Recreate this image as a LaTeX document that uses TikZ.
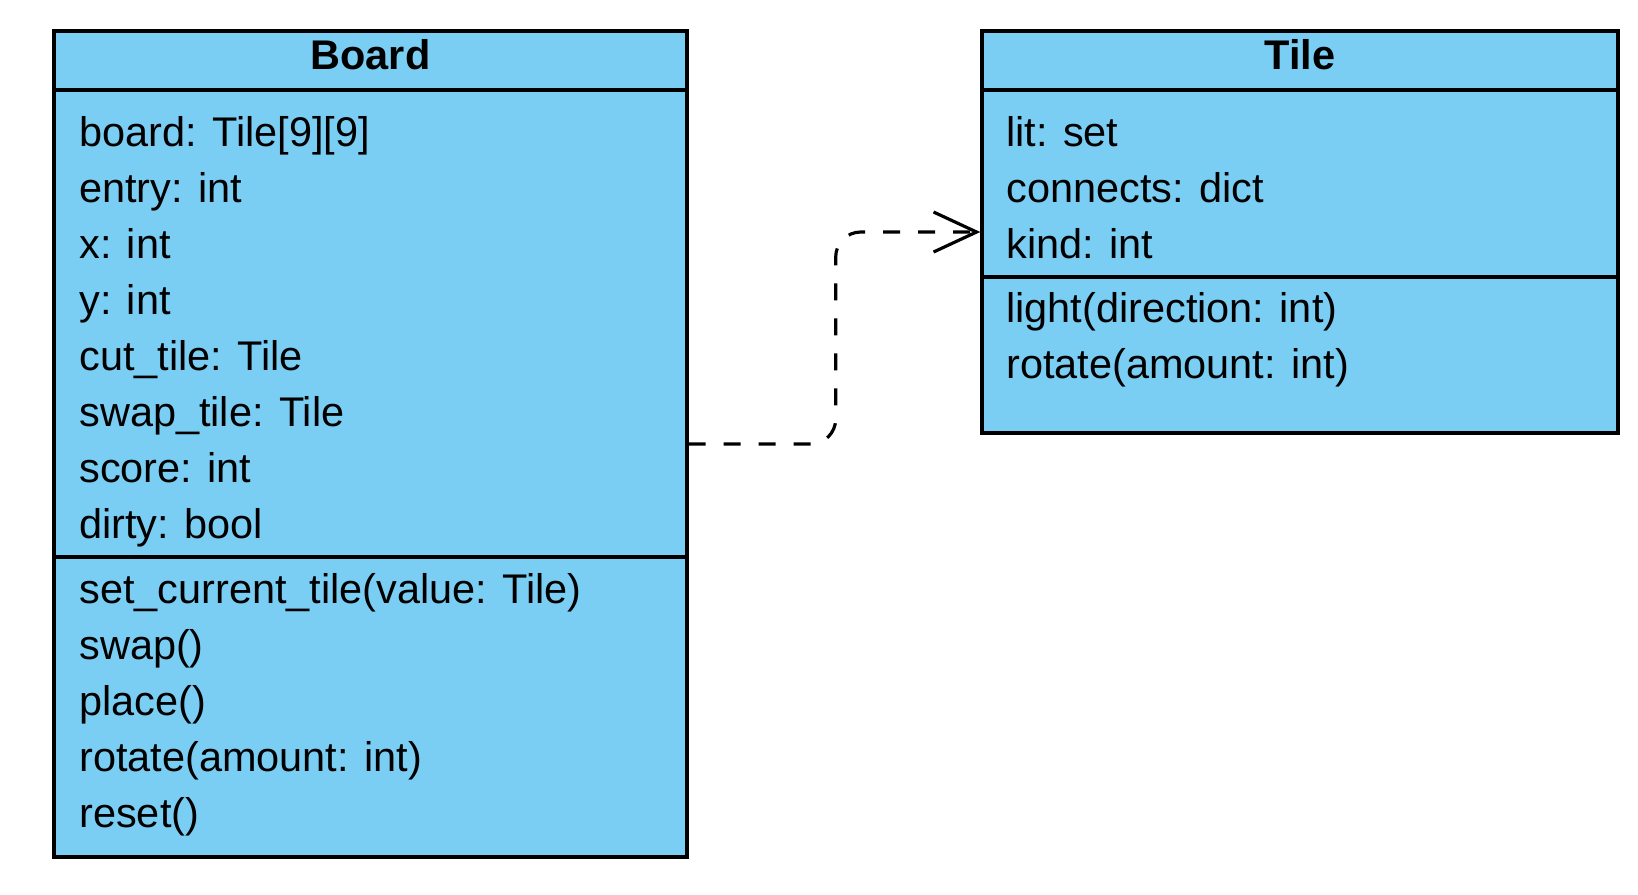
\documentclass[tikz,border=0pt]{standalone}
\usepackage{fontspec}
\setmainfont{Liberation Sans}
\usetikzlibrary{arrows.meta}

\definecolor{classblue}{RGB}{122,206,244}

\tikzset{
	classbox/.style={draw, line width=2pt, fill=classblue, inner sep=0pt},
	member/.style={anchor=base west, inner sep=0pt, font=\fontsize{23.6}{28}\selectfont},
	title/.style={anchor=base, inner sep=0pt, font=\fontsize{23.6}{28}\selectfont\bfseries},
	dep/.style={line width=1.8pt, dash pattern=on 0.34cm off 0.36cm, rounded corners=0.5cm,
		-{Straight Barb[length=0.86cm, width=0.8cm, line width=1.8pt]}}
}

\begin{document}
\begin{tikzpicture}[x=0.02cm, y=-0.02cm]

	\useasboundingbox (0,0) rectangle (1638,894);

	% Board
	\node [classbox, minimum width=12.66cm, minimum height=16.52cm] (board) at (370.5, 444) {};
	\draw [line width=2pt] (54, 90) -- (687, 90);
	\draw [line width=2pt] (54, 557) -- (687, 557);
	\node [title] (boardname) at (370.5, 69) {Board};

	\node [member] (b1) at (79, 146.7) {board: Tile[9][9]};
	\node [member] (b2) at (79, 202.6) {entry: int};
	\node [member] (b3) at (79, 258.5) {x: int};
	\node [member] (b4) at (79, 314.4) {y: int};
	\node [member] (b5) at (79, 370.3) {cut\_tile: Tile};
	\node [member] (b6) at (79, 426.2) {swap\_tile: Tile};
	\node [member] (b7) at (79, 482.1) {score: int};
	\node [member] (b8) at (79, 538.0) {dirty: bool};

	\node [member] (bm1) at (79, 603) {set\_current\_tile(value: Tile)};
	\node [member] (bm2) at (79, 659) {swap()};
	\node [member] (bm3) at (79, 715) {place()};
	\node [member] (bm4) at (79, 771) {rotate(amount: int)};
	\node [member] (bm5) at (79, 827) {reset()};

	% Tile
	\node [classbox, minimum width=12.72cm, minimum height=8.04cm] (tile) at (1300, 232) {};
	\draw [line width=2pt] (982, 90) -- (1618, 90);
	\draw [line width=2pt] (982, 277) -- (1618, 277);
	\node [title] (tilename) at (1300, 69) {Tile};

	\node [member] (t1) at (1006, 146.7) {lit: set};
	\node [member] (t2) at (1006, 202.6) {connects: dict};
	\node [member] (t3) at (1006, 258.5) {kind: int};

	\node [member] (tm1) at (1006, 322) {light(direction: int)};
	\node [member] (tm2) at (1006, 378) {rotate(amount: int)};

	% dependency
	\draw [dep] (board.east) -- ++(147, 0) |- (tile.west);

\end{tikzpicture}
\end{document}
